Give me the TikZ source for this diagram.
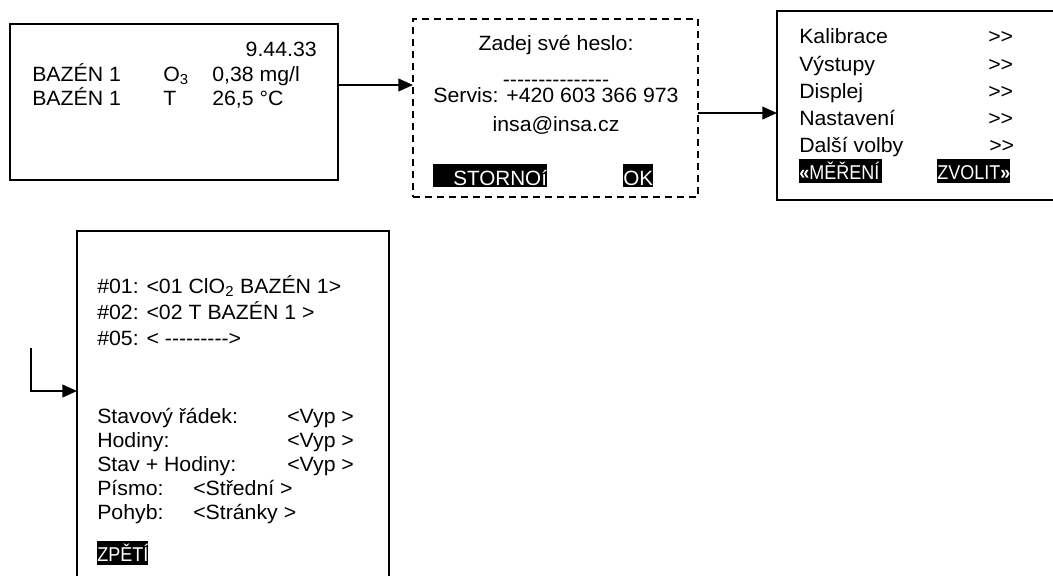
\documentclass[tikz,border=0pt]{standalone}
\usepackage{fontspec}
\setmainfont{Liberation Sans}[FakeStretch=1.03]
\newfontfamily\btnfont{Liberation Sans}
\newfontfamily\narrowfont{Liberation Sans}[FakeStretch=0.9]
\usetikzlibrary{arrows.meta}
\newcommand\hy{\mbox{-}}
\newcommand\dgt{\mbox{>}\mbox{>}}
\begin{document}
\begin{tikzpicture}[x=0.75pt,y=-0.75pt,
  frame/.style={draw=black, line width=1.5pt, inner sep=0pt, outer sep=0pt},
  dframe/.style={frame, dash pattern=on 5pt off 4pt},
  arr/.style={-{Triangle[length=11pt,width=9.5pt]}, line width=1.5pt},
  lbl/.style={inner sep=0pt, anchor=base west, font=\fontsize{15.5}{18}\selectfont},
  lblc/.style={lbl, anchor=base},
  lble/.style={lbl, anchor=base east},
  btn/.style={fill=black, text=white, inner xsep=0pt, inner ysep=0pt, anchor=base west},
  nbtn/.style={btn, font=\narrowfont\fontsize{15}{17}\selectfont, text height=15pt, text depth=3pt},
  wbtn/.style={btn, font=\btnfont\fontsize{15.5}{17}\selectfont, text height=15.75pt, text depth=1.5pt}]
\useasboundingbox (0,0) rectangle (1053,575);
\clip (0,0) rectangle (1053,575);

% frames
\node[frame, minimum width=246pt, minimum height=117pt] (box1) at (174,102) {};
\node[dframe, minimum width=213.75pt, minimum height=133.5pt] (box2) at (555.5,108) {};
\node[frame, minimum width=212.25pt, minimum height=141.75pt] (box3) at (918.5,105.5) {};
\node[frame, minimum width=234pt, minimum height=276.75pt] (box4) at (233,415.5) {};

% box 1
\node[lble] (t1time) at (317,56) {9.44.33};
\node[lbl] (t1a) at (32,81) {BAZÉN 1};
\node[lbl] (t1b) at (163,81) {O\textsubscript{3}};
\node[lbl] (t1c) at (212,81) {0,38 mg/l};
\node[lbl] (t1d) at (32,105) {BAZÉN 1};
\node[lbl] (t1e) at (163,105) {T};
\node[lbl] (t1f) at (212,105) {26,5 °C};

% box 2
\node[lblc] (t2a) at (556,50) {Zadej své heslo:};
\node[lblc] (t2b) at (556,86) {\hy\hy\hy\hy\hy\hy\hy\hy\hy\hy\hy\hy\hy\hy\hy};
\node[lblc] (t2c) at (556,102) {Servis: +420 603 366 973};
\node[lblc] (t2d) at (556,131) {insa@insa.cz};
\node[wbtn] (storno) at (433,185) {\hspace*{15pt}STORNOí};
\node[wbtn] (ok) at (623,185) {OK};

% box 3
\node[lbl] (t3a) at (799,43) {Kalibrace};
\node[lbl] (t3b) at (799,71) {Výstupy};
\node[lbl] (t3c) at (799,98) {Displej};
\node[lbl] (t3d) at (799,125) {Nastavení};
\node[lbl] (t3e) at (799,152) {Další volby};
\node[lbl] (g3a) at (988,43) {\dgt};
\node[lbl] (g3b) at (988,71) {\dgt};
\node[lbl] (g3c) at (988,98) {\dgt};
\node[lbl] (g3d) at (988,125) {\dgt};
\node[lbl] (g3e) at (989,152) {\dgt};
\node[nbtn] (mereni) at (799,179) {\textbf{«}MĚŘENÍ\hspace*{2pt}};
\node[nbtn] (zvolit) at (937,179) {ZVOLIT\textbf{»}};

% box 4
\node[lbl] (t4a) at (97,293) {\#01: <01 ClO\textsubscript{2} BAZÉN 1>};
\node[lbl] (t4b) at (97,319) {\#02: <02 T BAZÉN 1 >};
\node[lbl] (t4c) at (97,345) {\#05: < \hy\hy\hy\hy\hy\hy\hy\hy\hy>};
\node[lbl] (t4d) at (97,423) {Stavový řádek:};
\node[lbl] (t4e) at (97,447) {Hodiny:};
\node[lbl] (t4f) at (97,471) {Stav + Hodiny:};
\node[lbl] (v4d) at (287,423) {<Vyp >};
\node[lbl] (v4e) at (287,447) {<Vyp >};
\node[lbl] (v4f) at (287,471) {<Vyp >};
\node[lbl] (t4g) at (97,495) {Písmo:};
\node[lbl] (t4h) at (97,519) {Pohyb:};
\node[lbl] (v4g) at (193,495) {<Střední >};
\node[lbl] (v4h) at (193,519) {<Stránky >};
\node[nbtn] (zpet) at (97,561) {ZPĚTÍ};

% connectors
\coordinate (r1) at (0,85);
\coordinate (r2) at (0,113);
\coordinate (r4) at (0,391);
\coordinate (s4) at (31,348);
\draw[arr] (box1.east |- r1) -- (box2.west |- r1);
\draw[arr] (box2.east |- r2) -- (box3.west |- r2);
\draw[arr] (s4) |- (box4.west |- r4);
\end{tikzpicture}
\end{document}
